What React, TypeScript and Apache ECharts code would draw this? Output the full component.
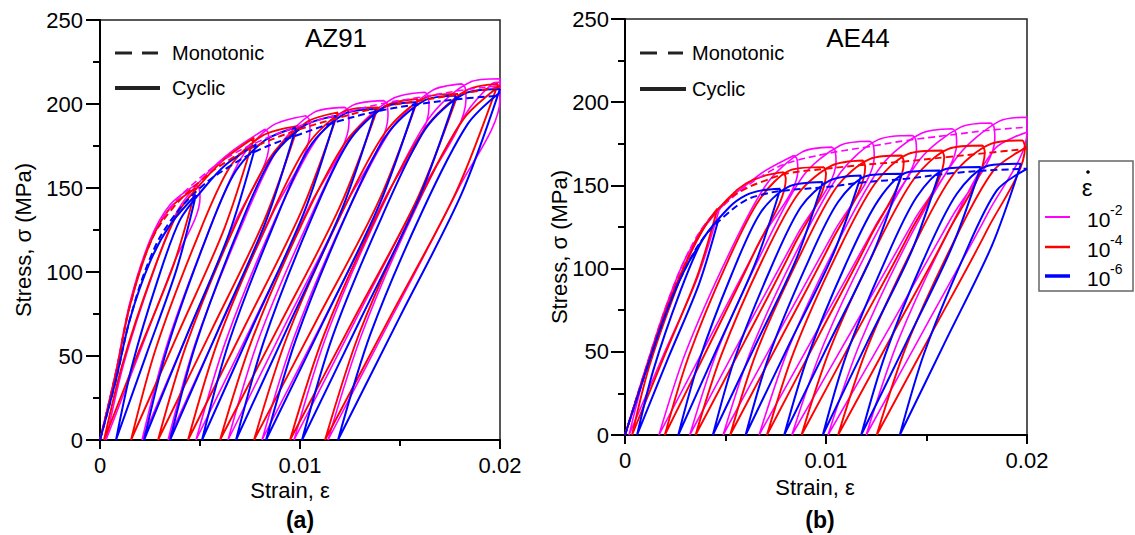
import React, { useEffect, useRef } from "react";
import * as echarts from "echarts";

const FONT = '"Liberation Sans", Arial, Helvetica, sans-serif';

// Axis ranges / ticks
const X_MIN = 0;
const X_MAX = 0.02;
const X_INTERVAL = 0.01;
const Y_MIN = 0;
const Y_MAX = 250;
const Y_INTERVAL = 50;

const RATES = ["10", "10", "10"];
const RATE_EXP = ["-2", "-4", "-6"];
const COLORS = ["#ff00ff", "#ff0000", "#0000ff"];

// ---------- AZ91 (panel a) ----------
const AZ91_MONO_2 = [[0,0],[0.0008,41],[0.0015,81],[0.0025,117],[0.0035,138],[0.005,156],[0.0065,169],[0.008,178],[0.01,187],[0.012,194],[0.014,200],[0.016,204],[0.018,208],[0.02,211]];
const AZ91_MONO_4 = [[0,0],[0.0008,40],[0.0015,80],[0.0025,117],[0.0035,136],[0.005,154],[0.0065,167],[0.008,176],[0.01,185],[0.012,192],[0.014,198],[0.016,202],[0.018,206],[0.02,210]];
const AZ91_MONO_6 = [[0,0],[0.0008,36],[0.0015,72],[0.0025,108],[0.0035,130],[0.005,150],[0.0065,163],[0.008,173],[0.01,182],[0.012,190],[0.014,196],[0.016,200],[0.018,203],[0.02,205]];

const AZ91_CYC_2 = [
  [[0,0],[0.0008,41],[0.0015,82],[0.0025,119],[0.0035,140],[0.0048,152]],
  [[0.0048,152],[0.00495,150],[0.005,144],[0.00372,106],[0.00201,53],[0.0003,0]],
  [[0.0003,0],[0.0012,46],[0.00264,99],[0.0039,137],[0.0053,158],[0.0066,172],[0.00825,185]],
  [[0.00825,185],[0.0084,183],[0.00845,176],[0.00677,130],[0.00444,65],[0.0021,0]],
  [[0.0021,0],[0.00333,56],[0.0053,120],[0.00702,167],[0.0086,187],[0.0103,193]],
  [[0.0103,193],[0.01045,191],[0.0105,184],[0.00864,135],[0.00602,68],[0.0034,0]],
  [[0.0034,0],[0.00478,58],[0.00699,125],[0.00892,174],[0.0107,195],[0.01225,198]],
  [[0.01225,198],[0.0124,196],[0.01245,189],[0.01046,139],[0.00763,69],[0.0048,0]],
  [[0.0048,0],[0.00629,59],[0.00867,129],[0.01076,178],[0.0126,199],[0.0142,202]],
  [[0.0142,202],[0.01435,200],[0.0144,193],[0.01233,141],[0.00936,71],[0.0064,0]],
  [[0.0064,0],[0.00796,61],[0.01046,131],[0.01264,182],[0.0146,203],[0.01625,207]],
  [[0.01625,207],[0.0164,205],[0.01645,198],[0.01429,145],[0.0112,72],[0.0081,0]],
  [[0.0081,0],[0.00973,62],[0.01234,135],[0.01462,186],[0.0166,208],[0.0181,212]],
  [[0.0181,212],[0.01825,210],[0.0183,203],[0.01608,148],[0.01289,74],[0.0097,0]],
  [[0.0097,0],[0.01138,64],[0.01407,138],[0.01642,191],[0.0185,213],[0.02,215]],
  [[0.02,215],[0.02,203],[0.01794,150],[0.01467,75],[0.0114,0]],
  [[0.0114,0],[0.01312,64],[0.01587,140],[0.01828,194],[0.0196,212],[0.02,213]],
];

const AZ91_CYC_4 = [
  [[0,0],[0.0008,40],[0.0015,80],[0.0025,117],[0.0035,138],[0.0048,150]],
  [[0.0048,150],[0.0037,105],[0.00195,53],[0.0002,0]],
  [[0.0002,0],[0.00112,45],[0.00259,98],[0.00388,135],[0.0053,156],[0.0063,168],[0.0077,180]],
  [[0.0077,180],[0.00622,126],[0.00389,63],[0.00155,0]],
  [[0.00155,0],[0.00278,54],[0.00475,117],[0.00647,162],[0.0081,181],[0.0099,187]],
  [[0.0099,187],[0.00822,131],[0.00556,65],[0.0029,0]],
  [[0.0029,0],[0.0043,56],[0.00654,122],[0.0085,168],[0.0103,189],[0.0119,195]],
  [[0.0119,195],[0.0101,137],[0.00725,68],[0.0044,0]],
  [[0.0044,0],[0.0059,59],[0.0083,127],[0.0104,176],[0.0123,196],[0.0139,198]],
  [[0.0139,198],[0.012,139],[0.009,69],[0.006,0]],
  [[0.006,0],[0.00758,59],[0.01011,129],[0.01232,178],[0.0143,199],[0.0159,203]],
  [[0.0159,203],[0.01393,142],[0.01082,71],[0.0077,0]],
  [[0.0077,0],[0.00934,61],[0.01196,132],[0.01426,183],[0.0163,204],[0.0179,206]],
  [[0.0179,206],[0.01588,144],[0.01269,72],[0.0095,0]],
  [[0.0095,0],[0.01118,62],[0.01387,134],[0.01622,185],[0.0183,208],[0.0199,212]],
  [[0.0199,212],[0.01782,148],[0.01454,74],[0.01125,0]],
  [[0.01125,0],[0.01298,64],[0.01575,138],[0.01817,191],[0.02,211]],
];

const AZ91_CYC_6 = [
  [[0,0],[0.0008,36],[0.0015,72],[0.0025,106],[0.0035,128],[0.0048,146]],
  [[0.0048,146],[0.00384,102],[0.00232,51],[0.0008,0]],
  [[0.0008,0],[0.0016,44],[0.00288,95],[0.004,131],[0.0052,150],[0.0063,164],[0.0078,176]],
  [[0.0078,176],[0.00646,123],[0.00433,62],[0.0022,0]],
  [[0.0022,0],[0.00332,53],[0.00511,114],[0.00668,158],[0.0082,178],[0.0098,186]],
  [[0.0098,186],[0.00829,130],[0.00589,65],[0.0035,0]],
  [[0.0035,0],[0.00476,56],[0.00678,121],[0.00854,167],[0.0102,187],[0.0118,193]],
  [[0.0118,193],[0.01019,135],[0.00765,68],[0.0051,0]],
  [[0.0051,0],[0.00644,58],[0.00858,125],[0.01046,174],[0.0122,194],[0.0138,197]],
  [[0.0138,197],[0.01212,138],[0.00946,69],[0.0068,0]],
  [[0.0068,0],[0.0082,59],[0.01044,128],[0.0124,177],[0.0142,198],[0.0158,201]],
  [[0.0158,201],[0.014,141],[0.01115,70],[0.0083,0]],
  [[0.0083,0],[0.0098,60],[0.0122,131],[0.0143,181],[0.0162,202],[0.0178,205]],
  [[0.0178,205],[0.01595,144],[0.01303,72],[0.0101,0]],
  [[0.0101,0],[0.01164,62],[0.0141,133],[0.01626,185],[0.0182,206],[0.02,209]],
  [[0.02,209],[0.01806,146],[0.01498,73],[0.0119,0]],
  [[0.0119,0],[0.01352,63],[0.01611,136],[0.01838,188],[0.02,207]],
];

// ---------- AE44 (panel b) ----------
const AE44_MONO_2 = [[0,0],[0.001,39],[0.002,76],[0.003,106],[0.004,127],[0.005,139],[0.006,149],[0.007,157],[0.008,163],[0.01,169],[0.012,173],[0.014,177],[0.016,180],[0.018,183],[0.02,185]];
const AE44_MONO_4 = [[0,0],[0.001,38],[0.002,74],[0.003,103],[0.004,126],[0.005,140],[0.006,148],[0.007,153],[0.008,157],[0.01,160],[0.012,162.5],[0.014,164.5],[0.016,167],[0.018,169.5],[0.02,172]];
const AE44_MONO_6 = [[0,0],[0.001,37],[0.002,72],[0.003,100],[0.004,120],[0.005,132],[0.006,141],[0.007,145],[0.008,147],[0.01,149],[0.012,152],[0.014,154],[0.016,157],[0.018,159],[0.02,160]];

const AE44_CYC_2 = [
  [[0,0],[0.001,39],[0.002,76],[0.003,106],[0.004,126],[0.0047,136]],
  [[0.0047,136],[0.00362,95],[0.00191,48],[0.0002,0]],
  [[0.0002,0],[0.0011,41],[0.00254,88],[0.0038,122],[0.0052,142],[0.006,150],[0.007,159],[0.0084,168]],
  [[0.0084,168],[0.00855,166],[0.0086,159],[0.00679,118],[0.00424,59],[0.00169,0]],
  [[0.00169,0],[0.00303,50],[0.00518,109],[0.00706,151],[0.0088,170],[0.0103,173]],
  [[0.0103,173],[0.01045,171],[0.0105,164],[0.0086,121],[0.00591,61],[0.00322,0]],
  [[0.00322,0],[0.00464,52],[0.0069,112],[0.00888,156],[0.0107,174],[0.0122,176.5]],
  [[0.0122,176.5],[0.01235,174.5],[0.0124,167],[0.01044,123],[0.00766,62],[0.00488,0]],
  [[0.00488,0],[0.00634,53],[0.00869,114],[0.01074,158],[0.0126,177.5],[0.0143,180]],
  [[0.0143,180],[0.01445,178],[0.0145,171],[0.01247,126],[0.00957,63],[0.00667,0]],
  [[0.00667,0],[0.0082,54],[0.01064,117],[0.01277,162],[0.0147,181],[0.0163,184]],
  [[0.0163,184],[0.01645,182],[0.0165,175],[0.01438,129],[0.01134,64],[0.0083,0]],
  [[0.0083,0],[0.0099,55],[0.01246,120],[0.0147,166],[0.0167,185],[0.0182,187.5]],
  [[0.0182,187.5],[0.01835,185.5],[0.0184,178],[0.01626,131],[0.01318,65],[0.0101,0]],
  [[0.0101,0],[0.01172,56],[0.01431,122],[0.01658,168],[0.0186,188.5],[0.02,191]],
  [[0.02,191],[0.02,182],[0.01808,134],[0.01504,67],[0.012,0]],
  [[0.012,0],[0.0136,57],[0.01616,124],[0.0184,172],[0.02,182]],
];

const AE44_CYC_4 = [
  [[0,0],[0.001,38],[0.002,74],[0.003,103],[0.004,126],[0.0046,136]],
  [[0.0046,136],[0.00358,95],[0.00197,48],[0.00035,0]],
  [[0.00035,0],[0.0012,41],[0.00256,88],[0.00375,122],[0.0052,143],[0.006,151],[0.007,156],[0.0079,158]],
  [[0.0079,158],[0.008,154],[0.00648,111],[0.00423,55],[0.00198,0]],
  [[0.00198,0],[0.00316,47],[0.00506,103],[0.00672,142],[0.0083,159.5],[0.0099,161]],
  [[0.0099,161],[0.01,157],[0.00837,113],[0.00594,56],[0.00351,0]],
  [[0.00351,0],[0.00479,48],[0.00683,105],[0.00862,145],[0.0103,162],[0.01185,165]],
  [[0.01185,165],[0.01195,161],[0.01026,116],[0.00775,58],[0.00523,0]],
  [[0.00523,0],[0.00655,50],[0.00867,107],[0.01053,149],[0.0122,166],[0.01377,168]],
  [[0.01377,168],[0.01387,164],[0.01216,118],[0.00961,59],[0.00706,0]],
  [[0.00706,0],[0.0084,50],[0.01055,109],[0.01243,151],[0.0141,169],[0.01578,171]],
  [[0.01578,171],[0.01588,167],[0.0141,120],[0.01144,60],[0.00878,0]],
  [[0.00878,0],[0.01018,51],[0.01242,111],[0.01438,154],[0.0161,172],[0.0178,174]],
  [[0.0178,174],[0.0179,170],[0.01607,122],[0.01334,61],[0.0106,0]],
  [[0.0106,0],[0.01204,52],[0.01434,113],[0.01636,157],[0.0182,175],[0.0198,177]],
  [[0.0198,177],[0.0199,173],[0.01805,124],[0.01529,62],[0.01252,0]],
  [[0.01252,0],[0.01398,53],[0.01631,115],[0.01834,159],[0.02,173]],
];

const AE44_CYC_6 = [
  [[0,0],[0.001,37],[0.002,72],[0.003,100],[0.004,120],[0.00466,130]],
  [[0.00466,130],[0.00369,91],[0.00214,46],[0.0006,0]],
  [[0.0006,0],[0.00141,39],[0.00271,85],[0.00385,117],[0.0052,137],[0.006,144],[0.0068,147],[0.00773,148]],
  [[0.00773,148],[0.00651,104],[0.00458,52],[0.00265,0]],
  [[0.00265,0],[0.00367,44],[0.00529,96],[0.00671,133],[0.0081,149],[0.00984,152]],
  [[0.00984,152],[0.00853,106],[0.00645,53],[0.00437,0]],
  [[0.00437,0],[0.00546,46],[0.00721,99],[0.00875,137],[0.0102,153],[0.01175,156]],
  [[0.01175,156],[0.01037,109],[0.00819,55],[0.006,0]],
  [[0.006,0],[0.00715,47],[0.00899,101],[0.0106,140],[0.0121,156],[0.01377,157]],
  [[0.01377,157],[0.01237,110],[0.01014,55],[0.00792,0]],
  [[0.00792,0],[0.00909,47],[0.01096,102],[0.0126,141],[0.0141,158],[0.01568,159]],
  [[0.01568,159],[0.01428,111],[0.01206,56],[0.00984,0]],
  [[0.00984,0],[0.01101,48],[0.01288,103],[0.01451,143],[0.016,160],[0.0177,161]],
  [[0.0177,161],[0.01627,113],[0.01401,56],[0.01175,0]],
  [[0.01175,0],[0.01294,48],[0.01484,105],[0.01651,145],[0.0181,162],[0.0197,163]],
  [[0.0197,163],[0.01826,114],[0.01597,57],[0.01367,0]],
  [[0.01367,0],[0.01488,49],[0.01681,106],[0.0185,147],[0.02,160]],
];

const LINE_WIDTHS = [1.6, 1.9, 2.0];

function joinSegments(segments: number[][][]) {
  const out: any[] = [];
  segments.forEach((seg, i) => {
    if (i > 0) out.push(["-", "-"]);
    seg.forEach((p) => out.push(p));
  });
  return out;
}

function makeAxes(gridIndex: number) {
  const x = {
    type: "value",
    gridIndex,
    min: X_MIN,
    max: X_MAX,
    interval: X_INTERVAL,
    axisLine: { show: true, onZero: false, lineStyle: { color: "#000", width: 2 } },
    axisTick: { show: true, inside: false, length: 9, lineStyle: { color: "#000", width: 2 } },
    minorTick: { show: true, splitNumber: 2, length: 6, lineStyle: { color: "#000", width: 2 } },
    splitLine: { show: false },
    minorSplitLine: { show: false },
    axisLabel: {
      color: "#000",
      fontSize: 22,
      fontFamily: FONT,
      margin: 14,
      formatter: (v: number) => (v === 0 ? "0" : v.toFixed(2)),
    },
  };
  const y = {
    type: "value",
    gridIndex,
    min: Y_MIN,
    max: Y_MAX,
    interval: Y_INTERVAL,
    axisLine: { show: true, onZero: false, lineStyle: { color: "#000", width: 2 } },
    axisTick: { show: true, inside: false, length: 14, lineStyle: { color: "#000", width: 2 } },
    minorTick: { show: true, splitNumber: 2, length: 7, lineStyle: { color: "#000", width: 2 } },
    splitLine: { show: false },
    minorSplitLine: { show: false },
    axisLabel: { color: "#000", fontSize: 22, fontFamily: FONT, margin: 17 },
  };
  return { x, y };
}

function makeSeries(idx: number, mono: number[][][], cyc: number[][][][]) {
  const list: any[] = [];
  cyc.forEach((segs, r) => {
    list.push({
      type: "line",
      xAxisIndex: idx,
      yAxisIndex: idx,
      data: joinSegments(segs),
      showSymbol: false,
      symbol: "none",
      smooth: 0.3,
      connectNulls: false,
      lineStyle: { color: COLORS[r], width: LINE_WIDTHS[r] },
      z: 2 + r,
    });
  });
  mono.forEach((pts, r) => {
    list.push({
      type: "line",
      xAxisIndex: idx,
      yAxisIndex: idx,
      data: pts,
      showSymbol: false,
      symbol: "none",
      smooth: 0.4,
      lineStyle: { color: COLORS[r], width: LINE_WIDTHS[r], type: [7, 4] },
      z: 6 + r,
    });
  });
  return list;
}

function txt(x: number, y: number, text: string, fontSize: number, extra: any = {}) {
  return {
    type: "text",
    x,
    y,
    z: 50,
    style: {
      text,
      fontSize,
      fontFamily: FONT,
      fill: "#000",
      align: extra.align || "center",
      verticalAlign: "middle",
      fontWeight: extra.fontWeight || "normal",
    },
    rotation: extra.rotation || 0,
  };
}

function line(x1: number, y1: number, x2: number, y2: number, color: string, width: number) {
  return {
    type: "line",
    z: 50,
    shape: { x1, y1, x2, y2 },
    style: { stroke: color, lineWidth: width },
  };
}

export default function App() {
  const ref = useRef<HTMLDivElement>(null);

  useEffect(() => {
    if (!ref.current) return;
    const chart = echarts.init(ref.current, undefined, { renderer: "svg" });
    const a = makeAxes(0);
    const b = makeAxes(1);
    b.y.axisLabel.margin = 16;

    const graphics: any[] = [
      // panel a
      txt(336, 38, "AZ91", 26),
      line(115, 53, 132, 53, "#222", 3),
      line(142, 53, 158, 53, "#222", 3),
      txt(172, 53, "Monotonic", 20, { align: "left" }),
      line(115, 88, 160, 88, "#222", 4),
      txt(172, 88, "Cyclic", 20, { align: "left" }),
      txt(290, 490, "Strain, ε", 22),
      txt(23, 240, "Stress, σ (MPa)", 22, { rotation: Math.PI / 2 }),
      txt(300, 520, "(a)", 23, { fontWeight: "bold" }),
      // panel b
      txt(858, 38, "AE44", 26),
      line(640, 53, 657, 53, "#222", 3),
      line(668, 53, 683, 53, "#222", 3),
      txt(692, 53, "Monotonic", 20, { align: "left" }),
      line(640, 89, 686, 89, "#222", 4),
      txt(692, 89, "Cyclic", 20, { align: "left" }),
      txt(815, 487, "Strain, ε", 22),
      txt(559, 247, "Stress, σ (MPa)", 22, { rotation: Math.PI / 2 }),
      txt(820, 520, "(b)", 23, { fontWeight: "bold" }),
      // rate legend
      {
        type: "rect",
        z: 40,
        shape: { x: 1039, y: 161, width: 94, height: 130 },
        style: { fill: "#fff", stroke: "#666", lineWidth: 1.5 },
      },
      txt(1087, 187, "ε", 24),
      { type: "circle", z: 51, shape: { cx: 1088, cy: 172, r: 1.8 }, style: { fill: "#000" } },
    ];
    const legendY = [217, 247, 276];
    const legendW = [2, 2.5, 3.5];
    RATES.forEach((base, i) => {
      graphics.push(line(1045, legendY[i], 1070, legendY[i], COLORS[i], legendW[i]));
      graphics.push(txt(1087, legendY[i] + 2, base, 21, { align: "left" }));
      graphics.push(txt(1110, legendY[i] - 7, RATE_EXP[i], 14, { align: "left" }));
    });

    chart.setOption({
      animation: false,
      backgroundColor: "#fff",
      grid: [
        { left: 100, top: 20, width: 400, height: 420, show: true, borderColor: "#222", borderWidth: 1.5, backgroundColor: "transparent" },
        { left: 625, top: 19, width: 402, height: 416, show: true, borderColor: "#222", borderWidth: 1.5, backgroundColor: "transparent" },
      ],
      xAxis: [a.x, b.x],
      yAxis: [a.y, b.y],
      series: [
        ...makeSeries(0, [AZ91_MONO_2, AZ91_MONO_4, AZ91_MONO_6], [AZ91_CYC_2, AZ91_CYC_4, AZ91_CYC_6]),
        ...makeSeries(1, [AE44_MONO_2, AE44_MONO_4, AE44_MONO_6], [AE44_CYC_2, AE44_CYC_4, AE44_CYC_6]),
      ],
      graphic: graphics,
    });
    return () => chart.dispose();
  }, []);

  return (
    <div
      ref={ref}
      style={{ position: "fixed", left: 0, top: 0, width: 1135, height: 535, background: "#fff" }}
    />
  );
}
